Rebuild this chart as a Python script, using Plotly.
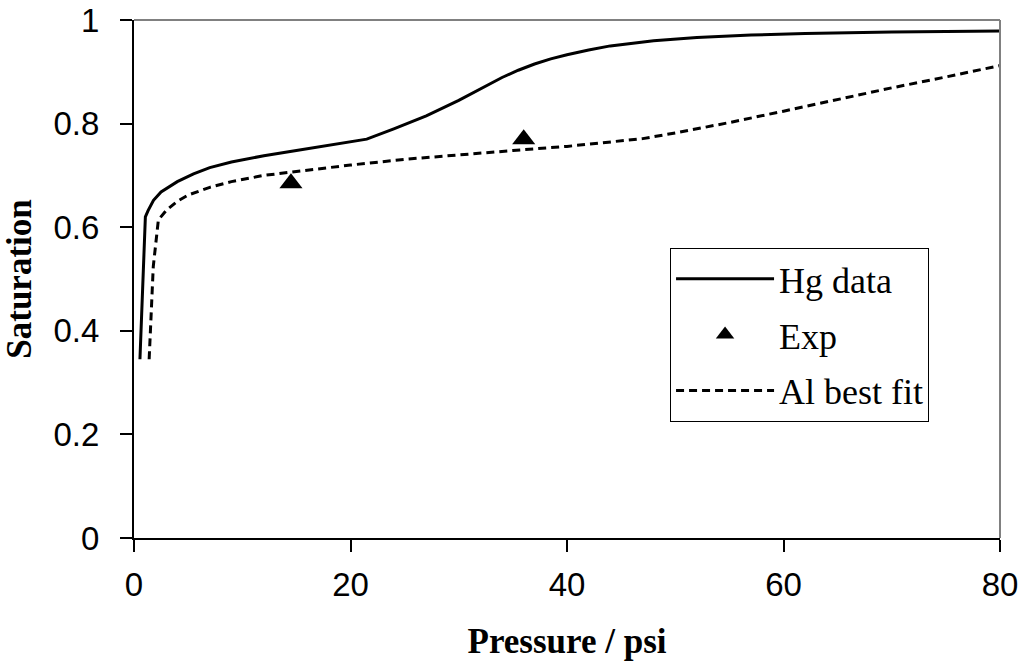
import plotly.graph_objects as go

# Hg data (solid line)
hg_x = [0.55, 0.7, 0.86, 1.05, 1.3, 1.8, 2.5, 4, 5.5, 7, 9, 12, 15, 17, 19, 20.5, 21.5,
        24, 27, 30, 32, 34, 35.5, 37, 38.5, 40, 42, 44, 48, 52, 57, 62, 70, 80]
hg_y = [0.345, 0.44, 0.524, 0.62, 0.632, 0.652, 0.668, 0.688, 0.703, 0.715, 0.726, 0.738,
        0.748, 0.755, 0.762, 0.767, 0.770, 0.790, 0.815, 0.845, 0.867, 0.889, 0.903, 0.915,
        0.925, 0.933, 0.942, 0.950, 0.960, 0.966, 0.971, 0.974, 0.977, 0.979]

# Experimental points (triangles)
exp_x = [14.5, 36.0]
exp_y = [0.685, 0.770]

# Al best fit (dashed line)
fit_x = [1.4, 1.6, 1.78, 2.25, 3, 4, 5, 7, 9, 12, 15, 20, 25, 30, 35, 40, 44, 47, 50, 55,
         60, 65, 70, 75, 80]
fit_y = [0.345, 0.44, 0.524, 0.614, 0.633, 0.65, 0.662, 0.677, 0.688, 0.700, 0.708, 0.720,
         0.731, 0.740, 0.748, 0.756, 0.764, 0.771, 0.782, 0.802, 0.824, 0.847, 0.869, 0.890,
         0.912]

x_ticks = [0, 20, 40, 60, 80]
y_ticks = [0, 0.2, 0.4, 0.6, 0.8, 1]

fig = go.Figure()
fig.add_trace(go.Scatter(x=hg_x, y=hg_y, mode="lines", name="Hg data",
                         line=dict(color="black", width=3), legendgroup="a"))
fig.add_trace(go.Scatter(x=exp_x, y=exp_y, mode="markers", name="Exp",
                         marker=dict(symbol="triangle-up", size=20, color="black"),
                         legendgroup="b"))
fig.add_trace(go.Scatter(x=fit_x, y=fit_y, mode="lines", name="Al best fit",
                         line=dict(color="black", width=3, dash="8px,5px"), legendgroup="c"))

axis_common = dict(showgrid=False, zeroline=False, ticks="outside", ticklen=12,
                   tickwidth=1.5, tickcolor="black", showline=True, linecolor="black",
                   linewidth=2, automargin=False, ticklabeloverflow="allow",
                   tickfont=dict(family="Liberation Sans, Arial", size=33, color="black"))

fig.update_layout(
    width=1024, height=671,
    margin=dict(l=134, r=24, t=20, b=133),
    paper_bgcolor="white", plot_bgcolor="white",
    xaxis=dict(range=[0, 80], tickvals=x_ticks, ticklabelstandoff=4,
               title=dict(text="Pressure / psi", standoff=27,
                          font=dict(family="Liberation Serif, Times New Roman", size=35,
                                    color="black", weight="bold")),
               **axis_common),
    yaxis=dict(range=[0, 1], tickvals=y_ticks, ticklabelstandoff=14,
               title=dict(text="Saturation", standoff=14,
                          font=dict(family="Liberation Serif, Times New Roman", size=35,
                                    color="black", weight="bold")),
               **axis_common),
    legend=dict(x=0.619, y=0.56, xanchor="left", yanchor="top",
                bordercolor="black", borderwidth=1, bgcolor="white",
                traceorder="grouped", tracegroupgap=6, itemwidth=98,
                font=dict(family="Liberation Serif, Times New Roman", size=36, color="black")),
    shapes=[
        dict(type="line", xref="paper", yref="paper", x0=0, x1=1, y0=1, y1=1,
             line=dict(color="#808080", width=2)),
        dict(type="line", xref="paper", yref="paper", x0=1, x1=1, y0=0, y1=1,
             line=dict(color="#808080", width=2)),
    ],
)

fig.write_html("out.html",
               config={"displayModeBar": False},
               post_script="document.body.style.margin='0';document.body.style.overflow='hidden';")
